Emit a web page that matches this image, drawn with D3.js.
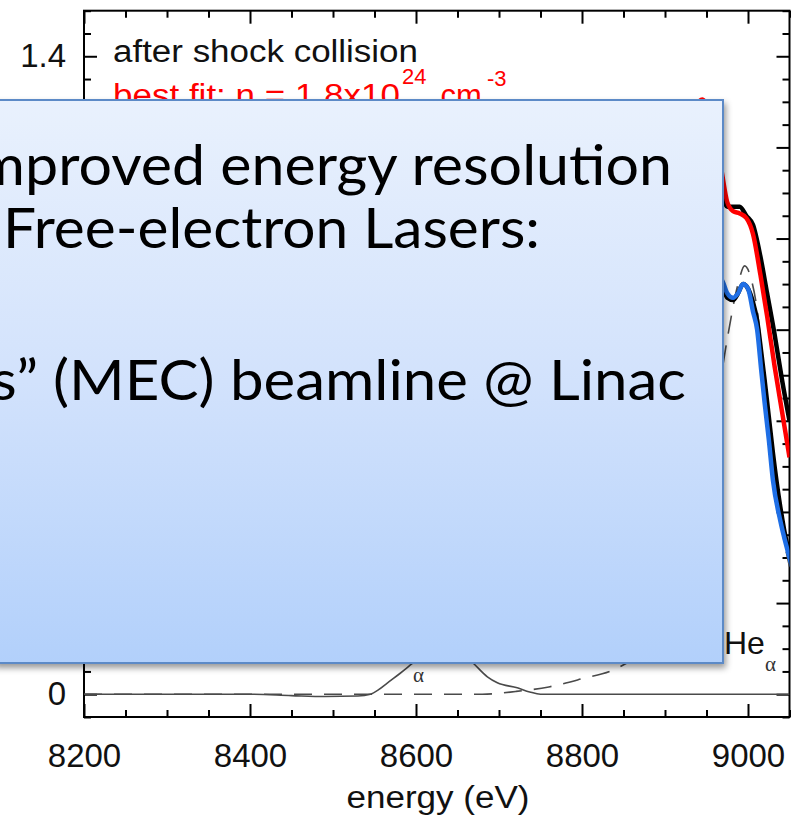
<!DOCTYPE html>
<html>
<head>
<meta charset="utf-8">
<script src="https://cdn.jsdelivr.net/npm/d3@7"></script>
<style>
  html, body { margin: 0; padding: 0; background: #fff; overflow: hidden; }
  svg { display: block; }
</style>
</head>
<body>
<script>
// ---------- axis ticks ----------
const xTicksMajor = [8200, 8400, 8600, 8800, 9000];
const yTicksMajor = [0, 0.2, 0.4, 0.6, 0.8, 1.0, 1.2, 1.4];
// only the end labels sit outside the text panel
const yTickLabels = ["0", "", "", "", "", "", "", "1.4"];

// ---------- spectrum after shock collision (upper pair) ----------
const upperEnergy = [8200, 8300, 8400, 8500, 8600, 8700, 8800, 8860, 8900, 8925, 8945, 8958, 8968, 8975, 8982, 8990, 8998, 9006, 9015, 9023, 9032, 9041, 9050];
const upperData   = [0.62, 0.66, 0.70, 0.76, 0.86, 0.90, 0.88, 0.95, 1.10, 1.22, 1.29, 1.22, 1.10, 1.07, 1.07, 1.07, 1.05, 1.03, 0.96, 0.88, 0.79, 0.69, 0.60];
const upperFit    = [0.63, 0.66, 0.70, 0.77, 0.86, 0.90, 0.88, 0.95, 1.11, 1.24, 1.305, 1.25, 1.15, 1.08, 1.06, 1.055, 1.045, 1.01, 0.92, 0.83, 0.72, 0.62, 0.52];

// ---------- second spectrum (lower pair) ----------
const lowerEnergy = [8200, 8300, 8400, 8500, 8600, 8700, 8800, 8860, 8900, 8930, 8955, 8968, 8975, 8982, 8988, 8994, 9000, 9006, 9011, 9016, 9020, 9025, 9030, 9039, 9047, 9053];
const lowerData   = [0.30, 0.32, 0.35, 0.40, 0.50, 0.55, 0.52, 0.58, 0.72, 0.85, 0.91, 0.90, 0.87, 0.865, 0.88, 0.90, 0.89, 0.86, 0.82, 0.75, 0.69, 0.61, 0.53, 0.41, 0.33, 0.295];
const lowerFit    = [0.30, 0.32, 0.35, 0.40, 0.50, 0.55, 0.52, 0.58, 0.72, 0.85, 0.92, 0.91, 0.88, 0.87, 0.88, 0.90, 0.89, 0.84, 0.80, 0.71, 0.64, 0.56, 0.47, 0.38, 0.32, 0.28];

// ---------- He-alpha line profile (dashed) ----------
const heEnergy  = [8200, 8400, 8600, 8680, 8720, 8760, 8800, 8840, 8870, 8900, 8930, 8955, 8976, 8988, 8996, 9004, 9012, 9020, 9030, 9040, 9050];
const heProfile = [0.0, 0.0, 0.0, 0.0, 0.006, 0.016, 0.034, 0.055, 0.09, 0.16, 0.32, 0.55, 0.79, 0.90, 0.94, 0.91, 0.83, 0.68, 0.50, 0.37, 0.28];

// ---------- low-level component (thin solid) ----------
const lowEnergy = [8200, 8300, 8400, 8450, 8490, 8530, 8545, 8555, 8565, 8581, 8596, 8615, 8635, 8655, 8669, 8686, 8698, 8722, 8737, 8750, 8850, 8950, 9050];
const lowValues = [0.0, 0.0, 0.0, -0.003, -0.005, -0.004, 0.0, 0.01, 0.024, 0.046, 0.068, 0.095, 0.105, 0.09, 0.068, 0.038, 0.025, 0.014, 0.005, 0.0, 0.0, 0.0, 0.0];

// ---------- text ----------
const panelTitle = "after shock collision";
const fitLabel = ["best fit: n = 1.8x10", "24", " cm", "-3"];
const xAxisTitle = "energy (eV)";
const boxLines = ["Improved energy resolution", "Free-electron Lasers:", "s\u201D (MEC) beamline @ Linac"];

const W = 800, H = 820;
const sansFont = "'Liberation Sans', Arial, Helvetica, sans-serif";
const serifFont = "'Liberation Serif', 'Times New Roman', serif";
const boxFont = "Lato, 'Open Sans', sans-serif";

const svg = d3.select("body").append("svg").attr("width", W).attr("height", H);
const defs = svg.append("defs");

const x = d3.scaleLinear().domain([8200, 9050]).range([84, 789.5]);
const y = d3.scaleLinear().domain([-0.05, 1.5]).range([717, 10.7]);
const [x0, x1] = x.range();
const [yb, yt] = y.range();

defs.append("clipPath").attr("id", "plotClip")
  .append("rect").attr("x", x0).attr("y", yt).attr("width", x1 - x0).attr("height", yb - yt);

const xMinor = d3.range(8200, 9051, 50).filter(v => !xTicksMajor.includes(v));
const yMinor = d3.range(-1, 31).filter(i => i % 4 !== 0).map(i => i * 0.05);

function styleAxis(g) {
  g.select(".domain").remove();
  g.selectAll(".tick line").attr("stroke", "#000").attr("stroke-width", 2);
  g.selectAll("text").attr("font-family", sansFont).attr("font-size", 33).attr("fill", "#111");
  g.selectAll("text").filter(function () { return this.textContent === ""; }).remove();
}

// major ticks (inward) with labels on bottom and left
svg.append("g").attr("transform", `translate(0,${yb})`)
  .call(d3.axisBottom(x).tickValues(xTicksMajor).tickSizeInner(-13).tickSizeOuter(0).tickPadding(27).tickFormat(d3.format("d")))
  .call(styleAxis);
svg.append("g").attr("transform", `translate(0,${yt})`)
  .call(d3.axisTop(x).tickValues(xTicksMajor).tickSizeInner(-13).tickSizeOuter(0).tickFormat(""))
  .call(styleAxis);
svg.append("g").attr("transform", `translate(${x0},0)`)
  .call(d3.axisLeft(y).tickValues(yTicksMajor).tickSizeInner(-13).tickSizeOuter(0).tickPadding(18)
    .tickFormat((d, i) => yTickLabels[i]))
  .call(styleAxis);
svg.append("g").attr("transform", `translate(${x1},0)`)
  .call(d3.axisRight(y).tickValues(yTicksMajor).tickSizeInner(-13).tickSizeOuter(0).tickFormat(""))
  .call(styleAxis);

// minor ticks
svg.append("g").attr("transform", `translate(0,${yb})`)
  .call(d3.axisBottom(x).tickValues(xMinor).tickSizeInner(-7).tickSizeOuter(0).tickFormat("")).call(styleAxis);
svg.append("g").attr("transform", `translate(0,${yt})`)
  .call(d3.axisTop(x).tickValues(xMinor).tickSizeInner(-7).tickSizeOuter(0).tickFormat("")).call(styleAxis);
svg.append("g").attr("transform", `translate(${x0},0)`)
  .call(d3.axisLeft(y).tickValues(yMinor).tickSizeInner(-7).tickSizeOuter(0).tickFormat("")).call(styleAxis);
svg.append("g").attr("transform", `translate(${x1},0)`)
  .call(d3.axisRight(y).tickValues(yMinor).tickSizeInner(-7).tickSizeOuter(0).tickFormat("")).call(styleAxis);

// frame
svg.append("rect").attr("x", x0).attr("y", yt).attr("width", x1 - x0).attr("height", yb - yt)
  .attr("fill", "none").attr("stroke", "#000").attr("stroke-width", 2);

// axis title
svg.append("text").attr("x", 438).attr("y", 808).attr("text-anchor", "middle")
  .attr("font-family", sansFont).attr("font-size", 31).attr("fill", "#111")
  .attr("textLength", 183).attr("lengthAdjust", "spacingAndGlyphs")
  .text(xAxisTitle);

// curves
const lineOf = (es, vs) => d3.line().curve(d3.curveMonotoneX)
  .x((d, i) => x(es[i])).y(d => y(d))(vs);

const curves = svg.append("g").attr("clip-path", "url(#plotClip)");
curves.append("path").attr("d", lineOf(lowEnergy, lowValues))
  .attr("fill", "none").attr("stroke", "#4a4a4a").attr("stroke-width", 1.6);
curves.append("path").attr("d", lineOf(heEnergy, heProfile))
  .attr("fill", "none").attr("stroke", "#4a4a4a").attr("stroke-width", 1.6).attr("stroke-dasharray", "18,12");
curves.append("path").attr("d", lineOf(lowerEnergy, lowerData))
  .attr("fill", "none").attr("stroke", "#000").attr("stroke-width", 4.5);
curves.append("path").attr("d", lineOf(lowerEnergy, lowerFit))
  .attr("fill", "none").attr("stroke", "#1f6fe6").attr("stroke-width", 4.5);
curves.append("path").attr("d", lineOf(upperEnergy, upperData))
  .attr("fill", "none").attr("stroke", "#000").attr("stroke-width", 4.5);
curves.append("path").attr("d", lineOf(upperEnergy, upperFit))
  .attr("fill", "none").attr("stroke", "#ff0000").attr("stroke-width", 4.5);

// panel labels
svg.append("text").attr("x", 113).attr("y", 62)
  .attr("font-family", sansFont).attr("font-size", 31).attr("fill", "#111")
  .attr("textLength", 305).attr("lengthAdjust", "spacingAndGlyphs")
  .text(panelTitle);

const fitText = svg.append("text").attr("x", 113).attr("y", 106)
  .attr("font-family", sansFont).attr("font-size", 31).attr("fill", "#ff0000");
fitText.append("tspan").attr("textLength", 287).attr("lengthAdjust", "spacingAndGlyphs").text(fitLabel[0]);
fitText.append("tspan").attr("x", 402).attr("y", 84).attr("font-size", 22).text(fitLabel[1]);
fitText.append("tspan").attr("x", 432).attr("y", 106).text(fitLabel[2]);
fitText.append("tspan").attr("x", 487).attr("y", 86).attr("font-size", 22).text(fitLabel[3]);

svg.append("text").attr("x", 413).attr("y", 682)
  .attr("font-family", serifFont).attr("font-size", 21).attr("fill", "#333").text("\u03B1");
svg.append("text").attr("x", 724).attr("y", 654)
  .attr("font-family", sansFont).attr("font-size", 32).attr("fill", "#111").text("He");
svg.append("text").attr("x", 765).attr("y", 671)
  .attr("font-family", serifFont).attr("font-size", 21).attr("fill", "#333").text("\u03B1");

// overlay text box
const grad = defs.append("linearGradient").attr("id", "boxFill")
  .attr("x1", 0).attr("y1", 0).attr("x2", 0).attr("y2", 1);
grad.append("stop").attr("offset", 0).attr("stop-color", "#e9f1fd");
grad.append("stop").attr("offset", 0.5).attr("stop-color", "#d2e2fc");
grad.append("stop").attr("offset", 1).attr("stop-color", "#b2d0fb");

const shadow = defs.append("filter").attr("id", "boxShadow")
  .attr("x", "-10%").attr("y", "-10%").attr("width", "120%").attr("height", "120%");
shadow.append("feDropShadow").attr("dx", 2).attr("dy", 4).attr("stdDeviation", 3)
  .attr("flood-color", "#000").attr("flood-opacity", 0.4);

svg.append("rect").attr("x", -6).attr("y", 100).attr("width", 729).attr("height", 563)
  .attr("fill", "url(#boxFill)").attr("stroke", "#5b8ac7").attr("stroke-width", 2)
  .attr("filter", "url(#boxShadow)");

const boxSize = 56;
const boxText = svg.append("g").attr("font-family", boxFont).attr("font-size", boxSize).attr("fill", "#000");
const measure = s => {
  const t = boxText.append("text").text(s);
  const w = t.node().getComputedTextLength();
  t.remove();
  return w;
};

// place a line so that the part after `prefix` runs from `from` to `to`
function placeLine(str, prefixW, from, to, baseline) {
  const full = measure(str);
  const k = (to - from) / (full - prefixW);
  const len = full * k;
  boxText.append("text").attr("x", to - len).attr("y", baseline)
    .attr("textLength", len).attr("lengthAdjust", "spacingAndGlyphs")
    .text(str);
}

placeLine(boxLines[0], measure("Im"), 25, 672, 185);
placeLine(boxLines[1], 0, 3, 540, 248);
placeLine(boxLines[2], measure("s\u201D (") - measure("("), 53, 686, 400);
</script>
</body>
</html>
